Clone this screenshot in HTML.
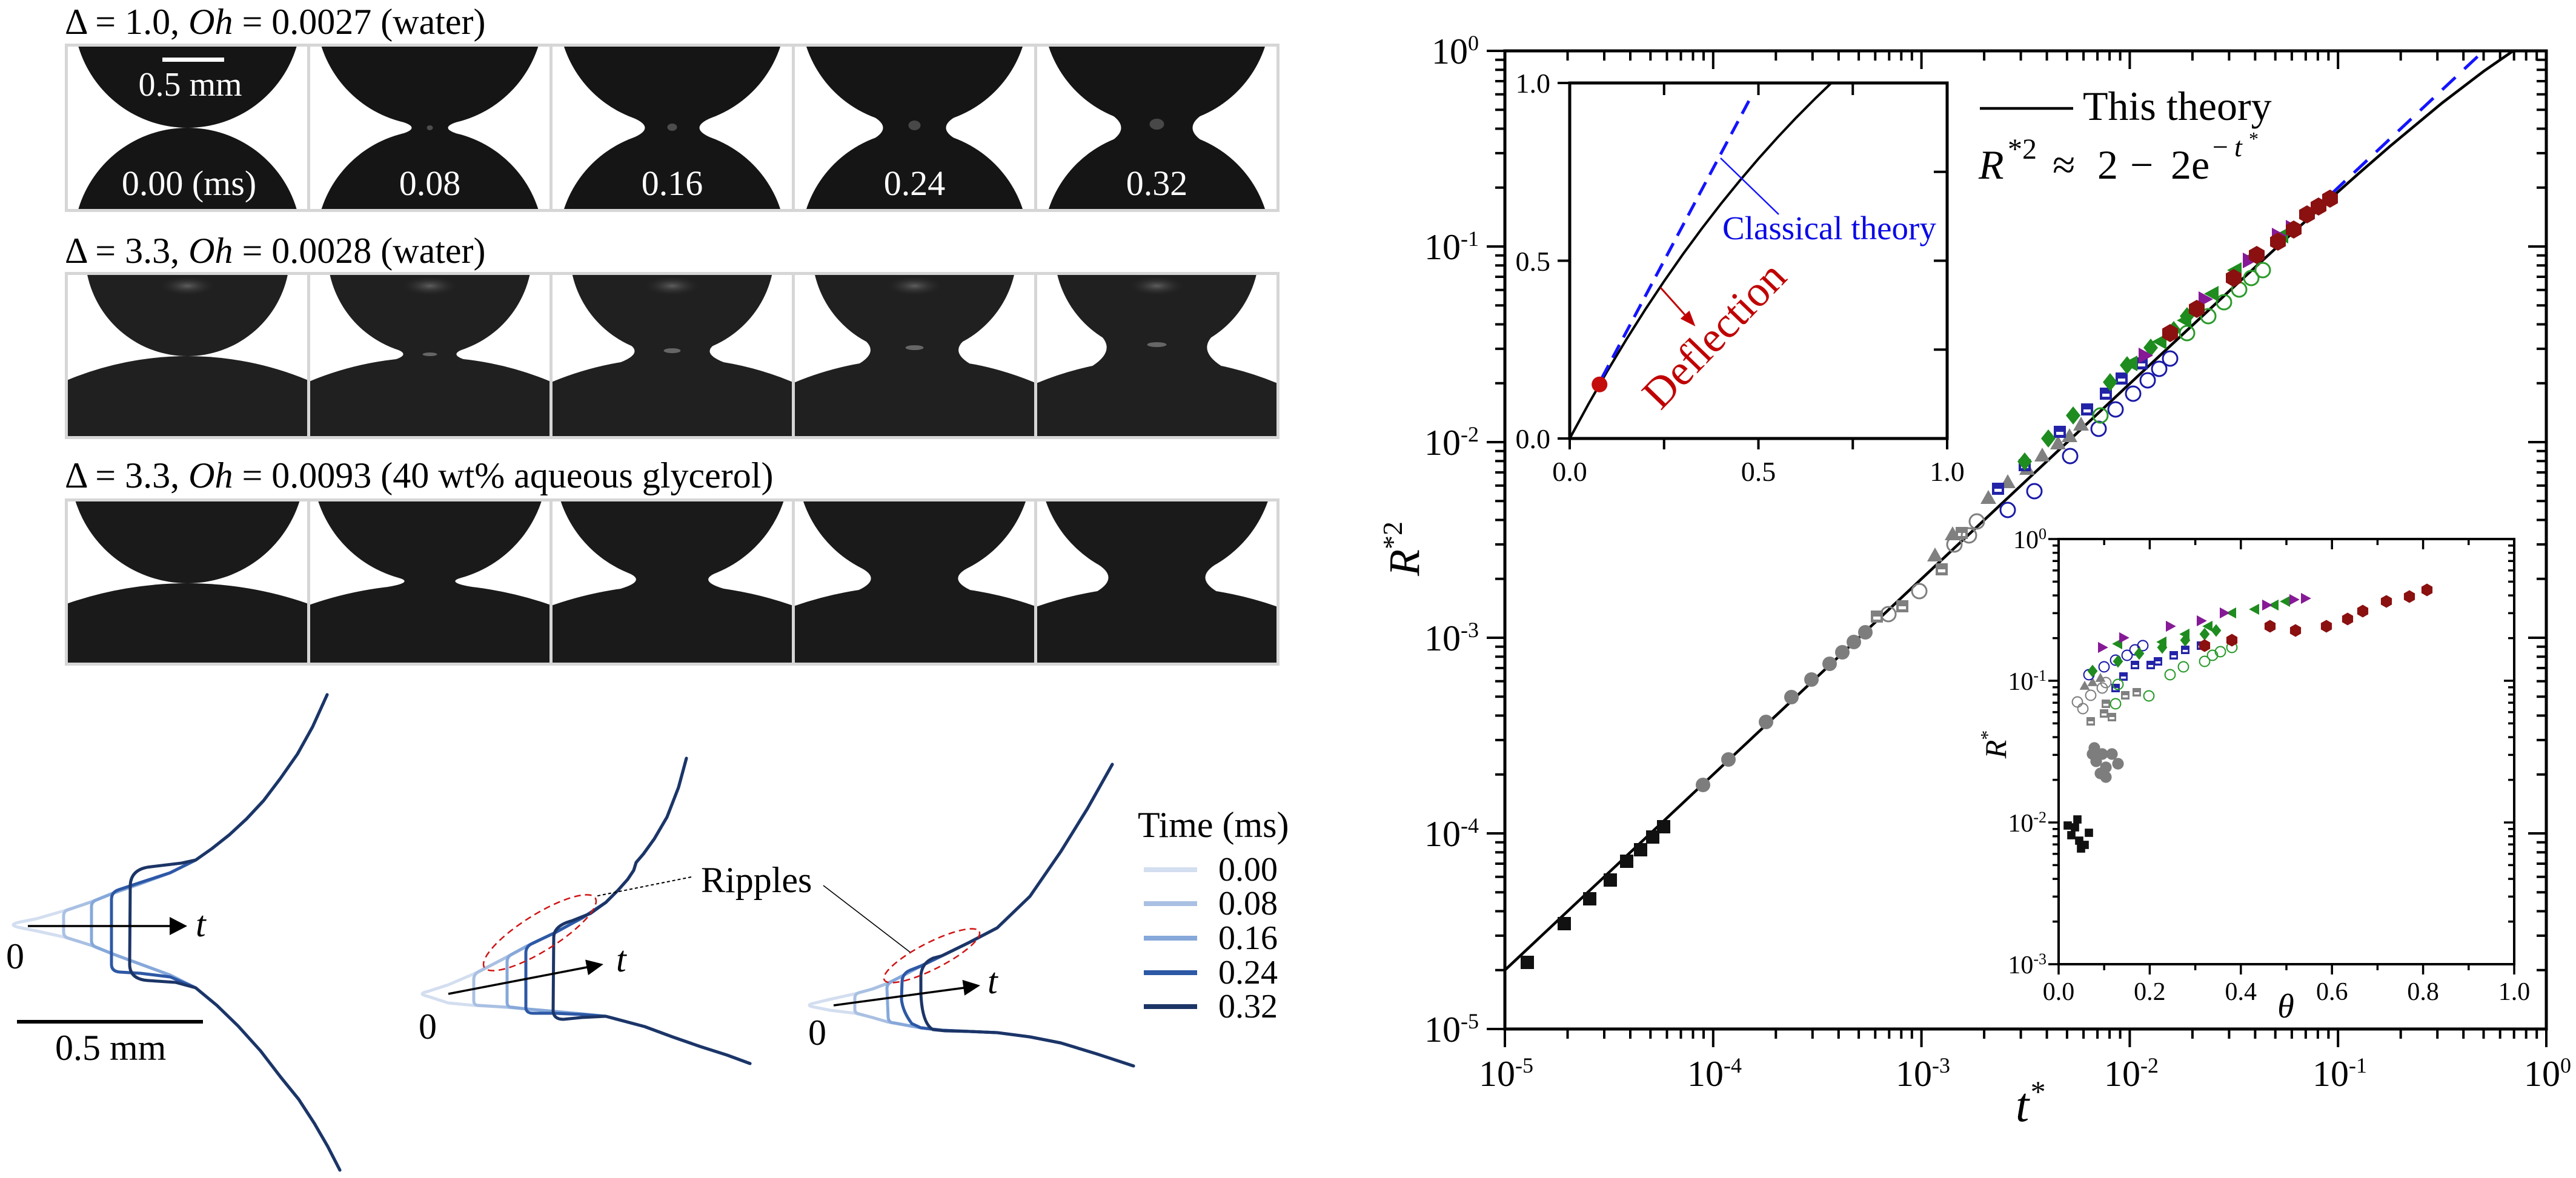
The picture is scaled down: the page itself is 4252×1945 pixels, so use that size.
<!DOCTYPE html>
<html><head><meta charset="utf-8"><style>
html,body{margin:0;padding:0;background:#fff;width:4252px;height:1945px;overflow:hidden;}
svg{display:block;font-family:"Liberation Serif","DejaVu Serif",serif;}
</style></head><body>
<svg width="4252" height="1945" viewBox="0 0 4252 1945" xmlns="http://www.w3.org/2000/svg" font-family="'Liberation Serif', 'DejaVu Serif', serif">
<defs>
<rect id="sq" x="-11" y="-11" width="22" height="22"/>
<circle id="ci" r="12"/>
<polygon id="tu" points="0,-14 13,9 -13,9"/>
<polygon id="tl" points="-14,0 10,-13 10,13"/>
<polygon id="tr" points="14,0 -10,-13 -10,13"/>
<polygon id="dm" points="0,-15 12,0 0,15 -12,0"/>
<polygon id="hx" points="13,-7.5 13,7.5 0,15 -13,7.5 -13,-7.5 0,-15"/>
<g id="hsq"><rect x="-10" y="-10" width="20" height="20"/><rect x="-6" y="0" width="12" height="5" fill="#fff"/></g>
<radialGradient id="hl"><stop offset="0" stop-color="#5e5e5e"/><stop offset="1" stop-color="#202020" stop-opacity="0"/></radialGradient>
</defs>
<rect width="4252" height="1945" fill="#fff"/>

<!-- ===== Row labels ===== -->
<g font-size="60" fill="#000">
<text x="107" y="56">Δ = 1.0, <tspan font-style="italic">Oh</tspan> = 0.0027 (water)</text>
<text x="107" y="434">Δ = 3.3, <tspan font-style="italic">Oh</tspan> = 0.0028 (water)</text>
<text x="107" y="805">Δ = 3.3, <tspan font-style="italic">Oh</tspan> = 0.0093 (40 wt% aqueous glycerol)</text>
</g>

<!-- ===== Row 1 ===== -->
<rect x="107" y="72" width="2005" height="278" fill="#d6d6d6"/>
<g fill="#fff">
<rect x="112" y="77" width="395" height="268"/><rect x="512" y="77" width="395" height="268"/><rect x="912" y="77" width="395" height="268"/><rect x="1312" y="77" width="395" height="268"/><rect x="1712" y="77" width="395" height="268"/>
</g>
<g fill="#151515">
<path d="M129.42,77 L489.58,77 A188 188 0 0 1 129.42,77 Z"/>
<path d="M129.42,345 A188 188 0 0 1 489.58,345 Z"/>
<path d="M530.67,77 L888.33,77 A188 188 0 0 1 530.67,77 Z"/>
<path d="M530.67,345 A188 188 0 0 1 888.33,345 Z"/>
<path d="M666.5,202 Q692.5,211 666.5,220 L752.5,220 Q726.5,211 752.5,202 Z"/>
<path d="M931,77 L1288,77 A188 188 0 0 1 931,77 Z"/>
<path d="M931,345 A188 188 0 0 1 1288,345 Z"/>
<path d="M1035.9,191 Q1093.1,211 1035.9,231 L1183.1,231 Q1125.9,211 1183.1,191 Z"/>
<path d="M1331,77 L1688,77 A188 188 0 0 1 1331,77 Z"/>
<path d="M1331,345 A188 188 0 0 1 1688,345 Z"/>
<path d="M1415.8,181 Q1499.2,211 1415.8,241 L1603.2,241 Q1519.8,211 1603.2,181 Z"/>
<path d="M1731,77 L2088,77 A188 188 0 0 1 1731,77 Z"/>
<path d="M1731,345 A188 188 0 0 1 2088,345 Z"/>
<path d="M1804.5,174 Q1896.5,211 1804.5,248 L2014.5,248 Q1922.5,211 2014.5,174 Z"/>
</g>
<ellipse cx="709.5" cy="211" rx="5" ry="4" fill="#4d4d4d"/>
<ellipse cx="1109.5" cy="210" rx="8" ry="6" fill="#4d4d4d"/>
<ellipse cx="1509.5" cy="207" rx="10" ry="8" fill="#484848"/>
<ellipse cx="1909.5" cy="205" rx="12" ry="9" fill="#484848"/>
<g fill="#fff">
<rect x="268" y="95" width="102" height="7"/>
<text x="314" y="158" font-size="56" text-anchor="middle">0.5 mm</text>
<text x="312" y="322" font-size="58" text-anchor="middle">0.00 (ms)</text>
<text x="709.5" y="322" font-size="58" text-anchor="middle">0.08</text>
<text x="1109.5" y="322" font-size="58" text-anchor="middle">0.16</text>
<text x="1509.5" y="322" font-size="58" text-anchor="middle">0.24</text>
<text x="1909.5" y="322" font-size="58" text-anchor="middle">0.32</text>
</g>

<!-- ===== Row 2 ===== -->
<rect x="107" y="449" width="2005" height="276" fill="#d6d6d6"/>
<g fill="#fff">
<rect x="112" y="454" width="395" height="266"/><rect x="512" y="454" width="395" height="266"/><rect x="912" y="454" width="395" height="266"/><rect x="1312" y="454" width="395" height="266"/><rect x="1712" y="454" width="395" height="266"/>
</g>
<g fill="#202020">
<path d="M144.16,454 L474.84,454 A169 169 0 0 1 144.16,454 Z"/>
<path d="M112,720 L112,627.2 A517 517 0 0 1 507,627.2 L507,720 Z"/>
<path d="M544.6,454 L874.4,454 A169 169 0 0 1 544.6,454 Z"/>
<path d="M512,720 L512,629.2 A517 517 0 0 1 907,629.2 L907,720 Z"/>
<path d="M649.5,575 Q679.3,584 653.9,593 L765.1,593 Q739.7,584 769.5,575 Z"/>
<path d="M944.83,454 L1274.17,454 A169 169 0 0 1 944.83,454 Z"/>
<path d="M912,720 L912,630.2 A517 517 0 0 1 1307,630.2 L1307,720 Z"/>
<path d="M1021,560 Q1072.1,579 1024.7,598 L1194.3,598 Q1146.9,579 1198,560 Z"/>
<path d="M1345.06,454 L1673.94,454 A169 169 0 0 1 1345.06,454 Z"/>
<path d="M1312,720 L1312,631.2 A517 517 0 0 1 1707,631.2 L1707,720 Z"/>
<path d="M1406.5,549 Q1460.3,574.5 1418.9,600 L1600.1,600 Q1558.7,574.5 1612.5,549 Z"/>
<path d="M1745.3,454 L2073.7,454 A169 169 0 0 1 1745.3,454 Z"/>
<path d="M1712,720 L1712,632.2 A517 517 0 0 1 2107,632.2 L2107,720 Z"/>
<path d="M1794.7,538 Q1853.9,571 1803.5,604 L2015.5,604 Q1965.1,571 2024.3,538 Z"/>
</g>
<g fill="url(#hl)">
<ellipse cx="309.5" cy="472" rx="48" ry="17"/><ellipse cx="709.5" cy="472" rx="48" ry="17"/><ellipse cx="1109.5" cy="472" rx="48" ry="17"/><ellipse cx="1509.5" cy="472" rx="48" ry="17"/><ellipse cx="1909.5" cy="472" rx="48" ry="17"/>
</g>
<g fill="#666">
<ellipse cx="709.5" cy="585" rx="12" ry="3"/><ellipse cx="1109.5" cy="579" rx="14" ry="4"/><ellipse cx="1509.5" cy="574" rx="15" ry="4"/><ellipse cx="1909.5" cy="569" rx="16" ry="4"/>
</g>

<!-- ===== Row 3 ===== -->
<rect x="107" y="823" width="2005" height="276" fill="#d6d6d6"/>
<g fill="#fff">
<rect x="112" y="828" width="395" height="266"/><rect x="512" y="828" width="395" height="266"/><rect x="912" y="828" width="395" height="266"/><rect x="1312" y="828" width="395" height="266"/><rect x="1712" y="828" width="395" height="266"/>
</g>
<g fill="#1a1a1a">
<path d="M124.69,828 L494.31,828 A194 194 0 0 1 124.69,828 Z"/>
<path d="M112,1094 L112,996.2 A604 604 0 0 1 507,996.2 L507,1094 Z"/>
<path d="M525.34,828 L893.66,828 A194 194 0 0 1 525.34,828 Z"/>
<path d="M512,1094 L512,998.2 A604 604 0 0 1 907,998.2 L907,1094 Z"/>
<path d="M657.9,954 Q684,961.5 640.1,969 L778.9,969 Q735,961.5 761.1,954 Z"/>
<path d="M925.67,828 L1293.33,828 A194 194 0 0 1 925.67,828 Z"/>
<path d="M912,1094 L912,999.2 A604 604 0 0 1 1307,999.2 L1307,1094 Z"/>
<path d="M1034.7,945 Q1069.5,958.5 1024.6,972 L1194.4,972 Q1149.5,958.5 1184.3,945 Z"/>
<path d="M1326.01,828 L1692.99,828 A194 194 0 0 1 1326.01,828 Z"/>
<path d="M1312,1094 L1312,1000.2 A604 604 0 0 1 1707,1000.2 L1707,1094 Z"/>
<path d="M1423.7,939 Q1454.2,956.5 1417.8,974 L1601.2,974 Q1564.8,956.5 1595.3,939 Z"/>
<path d="M1726.36,828 L2092.64,828 A194 194 0 0 1 1726.36,828 Z"/>
<path d="M1712,1094 L1712,1001.2 A604 604 0 0 1 2107,1001.2 L2107,1094 Z"/>
<path d="M1814.2,933 Q1846.1,954.5 1811.5,976 L2007.5,976 Q1972.9,954.5 2004.8,933 Z"/>
</g>

<!-- ===== Profiles ===== -->
<g fill="none" stroke-width="5" stroke-linejoin="round" stroke-linecap="round">
<path stroke="#d3def0" d="M540,1147 L516,1200 L491,1245 L463,1285 L435,1322 L407,1352 L379,1378 L350,1401 L323,1420 L281,1441 L232,1459 L186,1475 L151,1489 L105,1504 L60,1517 L30,1523 Q14,1527 30,1531 L60,1537 L105,1547 L151,1561 L186,1575 L232,1592 L281,1610 L323,1631 L358,1660 L393,1694 L430,1735 L463,1778 L493,1815 L519,1855 L541,1893 L561,1932"/>
<path stroke="#a9c0e3" d="M540,1147 L516,1200 L491,1245 L463,1285 L435,1322 L407,1352 L379,1378 L350,1401 L323,1420 L281,1441 L232,1459 L186,1475 L151,1489 L113,1502 Q105,1504 105,1512 L105,1539 Q105,1547 113,1549 L151,1561 L186,1575 L232,1592 L281,1610 L323,1631 L358,1660 L393,1694 L430,1735 L463,1778 L493,1815 L519,1855 L541,1893 L561,1932"/>
<path stroke="#86a8da" d="M540,1147 L516,1200 L491,1245 L463,1285 L435,1322 L407,1352 L379,1378 L350,1401 L323,1420 L281,1441 L232,1459 L186,1475 L159,1486 Q151,1489 151,1497 L151,1553 Q151,1561 159,1564 L186,1575 L232,1592 L281,1610 L323,1631 L358,1660 L393,1694 L430,1735 L463,1778 L493,1815 L519,1855 L541,1893 L561,1932"/>
<path stroke="#2d58a6" d="M540,1147 L516,1200 L491,1245 L463,1285 L435,1322 L407,1352 L379,1378 L350,1401 L323,1420 L281,1441 L232,1457 L196,1469 Q184,1473 184,1485 L184,1592 Q184,1604 198,1605 L232,1607 L281,1613 L323,1631 L358,1660 L393,1694 L430,1735 L463,1778 L493,1815 L519,1855 L541,1893 L561,1932"/>
<path stroke="#1c3567" d="M540,1147 L516,1200 L491,1245 L463,1285 L435,1322 L407,1352 L379,1378 L350,1401 L323,1420 L300,1425 L250,1431 Q216,1434 215,1462 L214,1592 Q214,1617 245,1619 L290,1622 L323,1631 L358,1660 L393,1694 L430,1735 L463,1778 L493,1815 L519,1855 L541,1893 L561,1932"/>
<path stroke="#d3def0" d="M1133,1252 L1120,1300 L1101,1349 L1080,1385 L1062,1410 L1050,1424 L1046,1437 L1036,1452 L1020,1470 L1000,1490 L962,1515 L916,1540 L870,1562 L837,1580 L814,1592 L782,1608 L740,1626 L706,1637 Q688,1641 706,1645 L740,1656 L782,1660 L837,1663 L870,1666 L916,1670 L960,1674 L1000,1678 L1064,1695 L1110,1712 L1156,1728 L1200,1742 L1238,1756"/>
<path stroke="#a9c0e3" d="M1133,1252 L1120,1300 L1101,1349 L1080,1385 L1062,1410 L1050,1424 L1046,1437 L1036,1452 L1020,1470 L1000,1490 L962,1515 L916,1540 L870,1562 L837,1580 L814,1592 L789,1605 Q782,1609 782,1617 L782,1652 Q782,1660 790,1660 L837,1663 L870,1666 L916,1670 L960,1674 L1000,1678 L1064,1695 L1110,1712 L1156,1728 L1200,1742 L1238,1756"/>
<path stroke="#86a8da" d="M1133,1252 L1120,1300 L1101,1349 L1080,1385 L1062,1410 L1050,1424 L1046,1437 L1036,1452 L1020,1470 L1000,1490 L962,1515 L916,1540 L870,1562 L844,1576 Q837,1580 837,1588 L837,1655 Q837,1663 845,1663 L870,1666 L916,1670 L960,1674 L1000,1678 L1064,1695 L1110,1712 L1156,1728 L1200,1742 L1238,1756"/>
<path stroke="#2d58a6" d="M1133,1252 L1120,1300 L1101,1349 L1080,1385 L1062,1410 L1050,1424 L1046,1437 L1036,1452 L1020,1470 L1000,1490 L962,1515 L916,1540 L878,1558 Q868,1563 868,1573 L868,1663 Q868,1673 880,1673 L916,1673 L960,1675 L1000,1678 L1064,1695 L1110,1712 L1156,1728 L1200,1742 L1238,1756"/>
<path stroke="#1c3567" d="M1133,1252 L1120,1300 L1101,1349 L1080,1385 L1062,1410 L1050,1424 L1046,1437 L1036,1452 L1020,1470 L1000,1490 L975,1508 L945,1520 Q914,1528 914,1548 L913,1668 Q913,1683 930,1683 L960,1680 L1000,1678 L1064,1695 L1110,1712 L1156,1728 L1200,1742 L1238,1756"/>
<path stroke="#d3def0" d="M1836,1262 L1795,1335 L1751,1406 L1700,1480 L1646,1532 L1600,1556 L1555,1578 L1520,1595 L1492,1610 L1464,1624 L1440,1633 L1411,1641 L1370,1650 L1345,1656 Q1327,1660 1345,1663 L1370,1668 L1411,1673 L1440,1680 L1464,1687 L1492,1692 L1520,1697 L1555,1701 L1600,1703 L1646,1705 L1700,1712 L1751,1722 L1810,1740 L1871,1760"/>
<path stroke="#a9c0e3" d="M1836,1262 L1795,1335 L1751,1406 L1700,1480 L1646,1532 L1600,1556 L1555,1578 L1520,1595 L1492,1610 L1464,1624 L1440,1633 L1418,1639 Q1411,1641 1411,1648 L1411,1667 Q1411,1673 1418,1674 L1440,1680 L1464,1687 L1492,1692 L1520,1697 L1555,1701 L1600,1703 L1646,1705 L1700,1712 L1751,1722 L1810,1740 L1871,1760"/>
<path stroke="#86a8da" d="M1836,1262 L1795,1335 L1751,1406 L1700,1480 L1646,1532 L1600,1556 L1555,1578 L1520,1595 L1492,1610 L1471,1621 Q1464,1625 1464,1632 L1466,1680 Q1467,1689 1476,1689 L1492,1692 L1520,1697 L1555,1701 L1600,1703 L1646,1705 L1700,1712 L1751,1722 L1810,1740 L1871,1760"/>
<path stroke="#2d58a6" d="M1836,1262 L1795,1335 L1751,1406 L1700,1480 L1646,1532 L1600,1556 L1555,1578 L1520,1595 L1502,1602 Q1490,1607 1489,1620 L1488,1650 Q1490,1670 1505,1690 L1520,1697 L1555,1701 L1600,1703 L1646,1705 L1700,1712 L1751,1722 L1810,1740 L1871,1760"/>
<path stroke="#1c3567" d="M1836,1262 L1795,1335 L1751,1406 L1700,1480 L1646,1532 L1600,1556 L1555,1578 L1540,1582 Q1522,1590 1520,1610 L1520,1640 Q1522,1690 1540,1700 L1560,1702 L1600,1703 L1646,1705 L1700,1712 L1751,1722 L1810,1740 L1871,1760"/>
</g>
<g stroke="#000" stroke-width="3.5">
<line x1="46" y1="1529" x2="282" y2="1529"/>
<line x1="740" y1="1641" x2="969" y2="1597"/>
<line x1="1376" y1="1660" x2="1591" y2="1631"/>
</g>
<g fill="#000">
<polygon points="280,1514 309,1529 280,1544"/>
<polygon points="996,1592 970.9,1610.1 966.1,1584.5"/>
<polygon points="1618,1627 1592.1,1643.7 1588.5,1617.9"/>
</g>
<g font-size="60" fill="#000">
<text x="323" y="1546" font-style="italic">t</text>
<text x="1017" y="1604" font-style="italic">t</text>
<text x="1630" y="1640" font-style="italic">t</text>
<text x="10" y="1599">0</text>
<text x="691" y="1715">0</text>
<text x="1334" y="1725">0</text>
<text x="91" y="1750">0.5 mm</text>
<text x="1157" y="1473">Ripples</text>
<text x="1878" y="1382">Time (ms)</text>
</g>
<rect x="28" y="1684" width="307" height="6" fill="#000"/>
<g fill="none" stroke="#d01414" stroke-width="2.5" stroke-dasharray="11 7">
<ellipse cx="891" cy="1540" rx="108" ry="30" transform="rotate(-32 891 1540)"/>
<ellipse cx="1538" cy="1578" rx="88" ry="22" transform="rotate(-27 1538 1578)"/>
</g>
<line x1="1141" y1="1448" x2="982" y2="1480" stroke="#000" stroke-width="2" stroke-dasharray="5 4"/>
<line x1="1359" y1="1462" x2="1502" y2="1572" stroke="#000" stroke-width="1.6"/>
<g stroke-width="8">
<line x1="1888" y1="1436" x2="1976" y2="1436" stroke="#d3def0"/>
<line x1="1888" y1="1492" x2="1976" y2="1492" stroke="#a9c0e3"/>
<line x1="1888" y1="1549" x2="1976" y2="1549" stroke="#86a8da"/>
<line x1="1888" y1="1606" x2="1976" y2="1606" stroke="#2d58a6"/>
<line x1="1888" y1="1662" x2="1976" y2="1662" stroke="#1c3567"/>
</g>
<g font-size="56" fill="#000">
<text x="2011" y="1454">0.00</text>
<text x="2011" y="1510">0.08</text>
<text x="2011" y="1567">0.16</text>
<text x="2011" y="1624">0.24</text>
<text x="2011" y="1680">0.32</text>
</g>

<!-- ===== Main plot ===== -->
<rect x="2484" y="84" width="1719" height="1615" fill="none" stroke="#000" stroke-width="5"/>
<g stroke="#000" stroke-width="4" fill="none">
<path d="M2484,84h-30M2484,407h-30M2484,730h-30M2484,1053h-30M2484,1376h-30M2484,1699h-30M4203,84h-30M4203,407h-30M4203,730h-30M4203,1053h-30M4203,1376h-30M4203,1699h-30M2484,1699v30M2827.8,1699v30M3171.6,1699v30M3515.4,1699v30M3859.2,1699v30M4203,1699v30M2827.8,84v30M3171.6,84v30M3515.4,84v30M3859.2,84v30"/>
<path d="M2484,1601.8h-16M2484,1544.9h-16M2484,1504.5h-16M2484,1473.2h-16M2484,1447.7h-16M2484,1426h-16M2484,1407.3h-16M2484,1390.8h-16M2484,1278.8h-16M2484,1221.9h-16M2484,1181.5h-16M2484,1150.2h-16M2484,1124.7h-16M2484,1103h-16M2484,1084.3h-16M2484,1067.8h-16M2484,955.8h-16M2484,898.9h-16M2484,858.5h-16M2484,827.2h-16M2484,801.7h-16M2484,780h-16M2484,761.3h-16M2484,744.8h-16M2484,632.8h-16M2484,575.9h-16M2484,535.5h-16M2484,504.2h-16M2484,478.7h-16M2484,457h-16M2484,438.3h-16M2484,421.8h-16M2484,309.8h-16M2484,252.9h-16M2484,212.5h-16M2484,181.2h-16M2484,155.7h-16M2484,134h-16M2484,115.3h-16M2484,98.8h-16"/>
<path d="M4203,1601.8h-16M4203,1544.9h-16M4203,1504.5h-16M4203,1473.2h-16M4203,1447.7h-16M4203,1426h-16M4203,1407.3h-16M4203,1390.8h-16M4203,1278.8h-16M4203,1221.9h-16M4203,1181.5h-16M4203,1150.2h-16M4203,1124.7h-16M4203,1103h-16M4203,1084.3h-16M4203,1067.8h-16M4203,955.8h-16M4203,898.9h-16M4203,858.5h-16M4203,827.2h-16M4203,801.7h-16M4203,780h-16M4203,761.3h-16M4203,744.8h-16M4203,632.8h-16M4203,575.9h-16M4203,535.5h-16M4203,504.2h-16M4203,478.7h-16M4203,457h-16M4203,438.3h-16M4203,421.8h-16M4203,309.8h-16M4203,252.9h-16M4203,212.5h-16M4203,181.2h-16M4203,155.7h-16M4203,134h-16M4203,115.3h-16M4203,98.8h-16"/>
<path d="M2587.5,1699v16M2648,1699v16M2691,1699v16M2724.3,1699v16M2751.5,1699v16M2774.5,1699v16M2794.5,1699v16M2812,1699v16M2931.3,1699v16M2991.8,1699v16M3034.8,1699v16M3068.1,1699v16M3095.3,1699v16M3118.3,1699v16M3138.3,1699v16M3155.8,1699v16M3275.1,1699v16M3335.6,1699v16M3378.6,1699v16M3411.9,1699v16M3439.1,1699v16M3462.1,1699v16M3482.1,1699v16M3499.6,1699v16M3618.9,1699v16M3679.4,1699v16M3722.4,1699v16M3755.7,1699v16M3782.9,1699v16M3805.9,1699v16M3825.9,1699v16M3843.4,1699v16M3962.7,1699v16M4023.2,1699v16M4066.2,1699v16M4099.5,1699v16M4126.7,1699v16M4149.7,1699v16M4169.7,1699v16M4187.2,1699v16"/>
<path d="M2587.5,84v16M2648,84v16M2691,84v16M2724.3,84v16M2751.5,84v16M2774.5,84v16M2794.5,84v16M2812,84v16M2931.3,84v16M2991.8,84v16M3034.8,84v16M3068.1,84v16M3095.3,84v16M3118.3,84v16M3138.3,84v16M3155.8,84v16M3275.1,84v16M3335.6,84v16M3378.6,84v16M3411.9,84v16M3439.1,84v16M3462.1,84v16M3482.1,84v16M3499.6,84v16M3618.9,84v16M3679.4,84v16M3722.4,84v16M3755.7,84v16M3782.9,84v16M3805.9,84v16M3825.9,84v16M3843.4,84v16M3962.7,84v16M4023.2,84v16M4066.2,84v16M4099.5,84v16M4126.7,84v16M4149.7,84v16M4169.7,84v16M4187.2,84v16"/>
</g>
<g font-size="60" fill="#000">
<text x="2441" y="105" text-anchor="end">10<tspan font-size="36" dy="-22">0</tspan></text>
<text x="2441" y="428" text-anchor="end">10<tspan font-size="36" dy="-22">-1</tspan></text>
<text x="2441" y="751" text-anchor="end">10<tspan font-size="36" dy="-22">-2</tspan></text>
<text x="2441" y="1074" text-anchor="end">10<tspan font-size="36" dy="-22">-3</tspan></text>
<text x="2441" y="1397" text-anchor="end">10<tspan font-size="36" dy="-22">-4</tspan></text>
<text x="2441" y="1720" text-anchor="end">10<tspan font-size="36" dy="-22">-5</tspan></text>
<text x="2486" y="1793" text-anchor="middle">10<tspan font-size="36" dy="-22">-5</tspan></text>
<text x="2830" y="1793" text-anchor="middle">10<tspan font-size="36" dy="-22">-4</tspan></text>
<text x="3174" y="1793" text-anchor="middle">10<tspan font-size="36" dy="-22">-3</tspan></text>
<text x="3518" y="1793" text-anchor="middle">10<tspan font-size="36" dy="-22">-2</tspan></text>
<text x="3862" y="1793" text-anchor="middle">10<tspan font-size="36" dy="-22">-1</tspan></text>
<text x="4205" y="1793" text-anchor="middle">10<tspan font-size="36" dy="-22">0</tspan></text>
</g>
<text transform="translate(2342,906) rotate(-90)" text-anchor="middle" font-size="72"><tspan font-style="italic">R</tspan><tspan font-size="46" dy="-28">*2</tspan></text>
<text x="3327" y="1851" font-size="80" font-style="italic">t<tspan font-size="50" dy="-32">*</tspan></text>

<path d="M2484,1601.8 L3171.6,955.8 L3343.5,794.5 L3515.4,633.5 L3601.4,553.3 L3687.3,473.5 L3773.3,394.4 L3859.2,316.7 L3893.6,286.2 L3945.2,241.3 L4031.1,169.9 L4099.9,117.4 L4148.3,84" fill="none" stroke="#000" stroke-width="4.5"/>
<path d="M3849,319.4 L4099.5,84" fill="none" stroke="#1414ff" stroke-width="5" stroke-dasharray="30 20"/>

<g fill="#111">
<use href="#sq" x="2521" y="1589"/><use href="#sq" x="2582" y="1525"/><use href="#sq" x="2624" y="1484"/><use href="#sq" x="2658" y="1453"/><use href="#sq" x="2685" y="1422"/><use href="#sq" x="2708" y="1403"/><use href="#sq" x="2728" y="1382"/><use href="#sq" x="2746" y="1365"/>
</g>
<g fill="#7d7d7d">
<use href="#ci" x="2811" y="1296"/><use href="#ci" x="2853" y="1254"/><use href="#ci" x="2915" y="1192"/><use href="#ci" x="2957" y="1151"/><use href="#ci" x="2990" y="1122"/><use href="#ci" x="3020" y="1096"/><use href="#ci" x="3041" y="1077"/><use href="#ci" x="3060" y="1060"/><use href="#ci" x="3079" y="1044"/>
</g>
<g fill="#808080">
<use href="#hsq" x="3098" y="1018"/><use href="#hsq" x="3140" y="1001"/><use href="#hsq" x="3238" y="880"/><use href="#hsq" x="3205" y="940"/>
<use href="#tu" x="3194" y="918"/><use href="#tu" x="3223" y="883"/><use href="#tu" x="3282" y="823"/><use href="#tu" x="3314" y="797"/><use href="#tu" x="3346" y="775"/><use href="#tu" x="3371" y="753"/><use href="#tu" x="3397" y="733"/><use href="#tu" x="3416" y="721"/><use href="#tu" x="3435" y="702"/>
</g>
<g fill="none" stroke="#7f7f7f" stroke-width="3">
<use href="#ci" x="3117" y="1014"/><use href="#ci" x="3168" y="976"/><use href="#ci" x="3226" y="899"/><use href="#ci" x="3263" y="861"/><use href="#ci" x="3250" y="884"/>
</g>
<g fill="none" stroke="#1a1aa8" stroke-width="3">
<use href="#ci" x="3314" y="842"/><use href="#ci" x="3358" y="811"/><use href="#ci" x="3417" y="753"/><use href="#ci" x="3464" y="708"/><use href="#ci" x="3492" y="676"/><use href="#ci" x="3521" y="650"/><use href="#ci" x="3545" y="628"/><use href="#ci" x="3564" y="609"/><use href="#ci" x="3582" y="592"/>
</g>
<g fill="#2323a8">
<use href="#hsq" x="3298" y="807"/><use href="#hsq" x="3342" y="768"/><use href="#hsq" x="3400" y="713"/><use href="#hsq" x="3445" y="676"/><use href="#hsq" x="3476" y="650"/><use href="#hsq" x="3502" y="625"/><use href="#hsq" x="3535" y="600"/>
</g>
<g fill="none" stroke="#2a9a2a" stroke-width="3">
<use href="#ci" x="3467" y="686"/><use href="#ci" x="3610" y="550"/><use href="#ci" x="3645" y="522"/><use href="#ci" x="3671" y="499"/><use href="#ci" x="3696" y="478"/><use href="#ci" x="3716" y="459"/><use href="#ci" x="3735" y="446"/>
</g>
<g fill="#1e8c1e">
<use href="#dm" x="3342" y="762"/><use href="#dm" x="3381" y="724"/><use href="#dm" x="3422" y="686"/><use href="#dm" x="3483" y="631"/><use href="#dm" x="3511" y="603"/><use href="#dm" x="3550" y="574"/><use href="#dm" x="3588" y="545"/><use href="#dm" x="3610" y="522"/>
<use href="#tl" x="3518" y="600"/><use href="#tl" x="3566" y="564"/><use href="#tl" x="3607" y="529"/><use href="#tl" x="3652" y="485"/><use href="#tl" x="3690" y="446"/><use href="#tl" x="3719" y="424"/><use href="#tl" x="3767" y="389"/>
</g>
<g fill="#861a96">
<use href="#tr" x="3540" y="587"/><use href="#tr" x="3639" y="494"/><use href="#tr" x="3712" y="430"/><use href="#tr" x="3760" y="389"/><use href="#tr" x="3783" y="376"/>
</g>
<g fill="#8b1010">
<use href="#hx" x="3582" y="550"/><use href="#hx" x="3626" y="510"/><use href="#hx" x="3687" y="459"/><use href="#hx" x="3725" y="421"/><use href="#hx" x="3760" y="399"/><use href="#hx" x="3786" y="379"/><use href="#hx" x="3808" y="354"/><use href="#hx" x="3827" y="341"/><use href="#hx" x="3846" y="328"/>
</g>

<line x1="3268" y1="179" x2="3422" y2="179" stroke="#000" stroke-width="4.5"/>
<text x="3438" y="198" font-size="68">This theory</text>
<g font-size="68">
<text x="3266" y="295" font-style="italic">R</text>
<text x="3314" y="262" font-size="48">*2</text>
<text x="3388" y="295">≈</text>
<text x="3462" y="295">2</text>
<text x="3516" y="295">−</text>
<text x="3583" y="295">2e</text>
<text x="3652" y="258" font-size="46">−</text>
<text x="3688" y="258" font-size="46" font-style="italic">t</text>
<text x="3712" y="240" font-size="32">*</text>
</g>

<!-- ===== Inset 1 ===== -->
<rect x="2591" y="137" width="623" height="587" fill="#fff" stroke="#000" stroke-width="5"/>
<path d="M2591,724v18M2746.75,724v18M2902.5,724v18M3058.25,724v18M3214,724v18M2746.75,137v20M2902.5,137v20M3058.25,137v20M2591,137h-20M2591,430.5h-20M2591,724h-20M3214,283.75h-22M3214,430.5h-22M3214,577.25h-22" stroke="#000" stroke-width="4" fill="none"/>
<g font-size="46">
<text x="2559" y="153" text-anchor="end">1.0</text>
<text x="2559" y="447" text-anchor="end">0.5</text>
<text x="2559" y="740" text-anchor="end">0.0</text>
<text x="2591" y="794" text-anchor="middle">0.0</text>
<text x="2902.5" y="794" text-anchor="middle">0.5</text>
<text x="3214" y="794" text-anchor="middle">1.0</text>
</g>
<path d="M2591,724 L2622.2,666.7 L2653.3,612.3 L2684.5,560.5 L2715.6,511.2 L2746.8,464.3 L2777.9,419.7 L2809.1,377.3 L2840.2,337 L2871.4,298.6 L2902.5,262.1 L2933.7,227.3 L2964.8,194.3 L2996,162.9 L3022.8,137" fill="none" stroke="#000" stroke-width="4"/>
<path d="M2644,624.2 L2887.5,165.2" fill="none" stroke="#1414ff" stroke-width="5" stroke-dasharray="24 14"/>
<circle cx="2640.2" cy="634.8" r="13" fill="#c40d0d"/>
<line x1="2840" y1="261" x2="2936" y2="354" stroke="#1414ff" stroke-width="2.5"/>
<text x="2843" y="395" font-size="55" fill="#0a0ae6">Classical theory</text>
<line x1="2741" y1="475" x2="2781" y2="519.6" stroke="#c00000" stroke-width="3"/>
<polygon points="2798.5,538.9 2773.7,526.3 2788.5,512.9" fill="#c00000"/>
<text transform="translate(2741,679) rotate(-46)" font-size="72" fill="#c00000">Deflection</text>

<!-- ===== Inset 2 ===== -->
<rect x="3398" y="890" width="752" height="702" fill="#fff" stroke="#000" stroke-width="4"/>
<g stroke="#000" stroke-width="3.5" fill="none">
<path d="M3398,1592v17M3548.4,1592v17M3698.8,1592v17M3849.2,1592v17M3999.6,1592v17M4150,1592v17M3473.2,1592v10M3623.6,1592v10M3774,1592v10M3924.4,1592v10M4074.8,1592v10"/>
<path d="M3548.4,890v17M3698.8,890v17M3849.2,890v17M3999.6,890v17M3473.2,890v10M3623.6,890v10M3774,890v10M3924.4,890v10M4074.8,890v10"/>
<path d="M3398,890h-17M3398,1124h-17M3398,1358h-17M3398,1592h-17M4150,1124h-17M4150,1358h-17"/>
<path d="M3398,1521.6h-10M3398,1480.4h-10M3398,1451.1h-10M3398,1428.4h-10M3398,1409.9h-10M3398,1394.2h-10M3398,1380.7h-10M3398,1368.7h-10M3398,1287.6h-10M3398,1246.4h-10M3398,1217.1h-10M3398,1194.4h-10M3398,1175.9h-10M3398,1160.2h-10M3398,1146.7h-10M3398,1134.7h-10M3398,1053.6h-10M3398,1012.4h-10M3398,983.1h-10M3398,960.4h-10M3398,941.9h-10M3398,926.2h-10M3398,912.7h-10M3398,900.7h-10"/>
<path d="M4150,1521.6h-10M4150,1480.4h-10M4150,1451.1h-10M4150,1428.4h-10M4150,1409.9h-10M4150,1394.2h-10M4150,1380.7h-10M4150,1368.7h-10M4150,1287.6h-10M4150,1246.4h-10M4150,1217.1h-10M4150,1194.4h-10M4150,1175.9h-10M4150,1160.2h-10M4150,1146.7h-10M4150,1134.7h-10M4150,1053.6h-10M4150,1012.4h-10M4150,983.1h-10M4150,960.4h-10M4150,941.9h-10M4150,926.2h-10M4150,912.7h-10M4150,900.7h-10"/>
</g>
<g font-size="42">
<text x="3378" y="905" text-anchor="end">10<tspan font-size="26" dy="-15">0</tspan></text>
<text x="3378" y="1139" text-anchor="end">10<tspan font-size="26" dy="-15">-1</tspan></text>
<text x="3378" y="1373" text-anchor="end">10<tspan font-size="26" dy="-15">-2</tspan></text>
<text x="3378" y="1607" text-anchor="end">10<tspan font-size="26" dy="-15">-3</tspan></text>
<text x="3398" y="1651" text-anchor="middle">0.0</text>
<text x="3548.4" y="1651" text-anchor="middle">0.2</text>
<text x="3698.8" y="1651" text-anchor="middle">0.4</text>
<text x="3849.2" y="1651" text-anchor="middle">0.6</text>
<text x="3999.6" y="1651" text-anchor="middle">0.8</text>
<text x="4150" y="1651" text-anchor="middle">1.0</text>
</g>
<text x="3773" y="1680" font-size="56" font-style="italic" text-anchor="middle">θ</text>
<text transform="translate(3311,1229) rotate(-90)" text-anchor="middle" font-size="50"><tspan font-style="italic">R</tspan><tspan font-size="32" dy="-20">*</tspan></text>

<g fill="#111">
<use href="#sq" transform="translate(3413,1363) scale(.62)"/><use href="#sq" transform="translate(3429,1353) scale(.62)"/><use href="#sq" transform="translate(3419,1379) scale(.62)"/><use href="#sq" transform="translate(3432,1388) scale(.62)"/><use href="#sq" transform="translate(3435,1401) scale(.62)"/><use href="#sq" transform="translate(3448,1375) scale(.62)"/><use href="#sq" transform="translate(3425,1366) scale(.62)"/><use href="#sq" transform="translate(3441,1395) scale(.62)"/>
</g>
<g fill="#7d7d7d">
<use href="#ci" transform="translate(3457,1235) scale(.8)"/><use href="#ci" transform="translate(3470,1245) scale(.8)"/><use href="#ci" transform="translate(3460,1257) scale(.8)"/><use href="#ci" transform="translate(3476,1267) scale(.8)"/><use href="#ci" transform="translate(3467,1277) scale(.8)"/><use href="#ci" transform="translate(3486,1245) scale(.8)"/><use href="#ci" transform="translate(3496,1261) scale(.8)"/><use href="#ci" transform="translate(3476,1283) scale(.8)"/><use href="#ci" transform="translate(3454,1245) scale(.8)"/>
</g>
<g fill="#808080">
<use href="#hsq" transform="translate(3451,1191) scale(.7)"/><use href="#hsq" transform="translate(3473,1178) scale(.7)"/><use href="#hsq" transform="translate(3486,1184) scale(.7)"/><use href="#hsq" transform="translate(3476,1162) scale(.7)"/><use href="#hsq" transform="translate(3508,1148) scale(.7)"/><use href="#hsq" transform="translate(3527,1143) scale(.7)"/>
<use href="#tu" transform="translate(3441,1133) scale(.65)"/><use href="#tu" transform="translate(3454,1127) scale(.65)"/><use href="#tu" transform="translate(3467,1120) scale(.65)"/>
</g>
<g fill="none" stroke="#7f7f7f" stroke-width="3">
<use href="#ci" transform="translate(3429,1159) scale(.7)"/><use href="#ci" transform="translate(3438,1170) scale(.7)"/><use href="#ci" transform="translate(3451,1148) scale(.7)"/><use href="#ci" transform="translate(3470,1136) scale(.7)"/><use href="#ci" transform="translate(3476,1127) scale(.7)"/>
</g>
<g fill="none" stroke="#1a1aa8" stroke-width="3">
<use href="#ci" transform="translate(3448,1114) scale(.7)"/><use href="#ci" transform="translate(3473,1101) scale(.7)"/><use href="#ci" transform="translate(3492,1090) scale(.7)"/><use href="#ci" transform="translate(3511,1082) scale(.7)"/><use href="#ci" transform="translate(3524,1073) scale(.7)"/><use href="#ci" transform="translate(3537,1066) scale(.7)"/>
</g>
<g fill="#2323a8">
<use href="#hsq" transform="translate(3492,1136) scale(.7)"/><use href="#hsq" transform="translate(3505,1117) scale(.7)"/><use href="#hsq" transform="translate(3524,1098) scale(.7)"/><use href="#hsq" transform="translate(3550,1098) scale(.7)"/><use href="#hsq" transform="translate(3562,1092) scale(.7)"/><use href="#hsq" transform="translate(3588,1082) scale(.7)"/><use href="#hsq" transform="translate(3607,1073) scale(.7)"/><use href="#hsq" transform="translate(3633,1066) scale(.7)"/>
</g>
<g fill="none" stroke="#2a9a2a" stroke-width="3">
<use href="#ci" transform="translate(3492,1162) scale(.7)"/><use href="#ci" transform="translate(3496,1130) scale(.7)"/><use href="#ci" transform="translate(3547,1149) scale(.7)"/><use href="#ci" transform="translate(3582,1114) scale(.7)"/><use href="#ci" transform="translate(3604,1101) scale(.7)"/><use href="#ci" transform="translate(3639,1092) scale(.7)"/><use href="#ci" transform="translate(3652,1082) scale(.7)"/><use href="#ci" transform="translate(3665,1076) scale(.7)"/><use href="#ci" transform="translate(3684,1069) scale(.7)"/>
</g>
<g fill="#1e8c1e">
<use href="#dm" transform="translate(3454,1108) scale(.7)"/><use href="#dm" transform="translate(3496,1092) scale(.7)"/><use href="#dm" transform="translate(3531,1079) scale(.7)"/><use href="#dm" transform="translate(3569,1069) scale(.7)"/><use href="#dm" transform="translate(3607,1057) scale(.7)"/><use href="#dm" transform="translate(3639,1047) scale(.7)"/><use href="#dm" transform="translate(3658,1041) scale(.7)"/>
<use href="#tl" transform="translate(3496,1063) scale(.7)"/><use href="#tl" transform="translate(3569,1060) scale(.7)"/><use href="#tl" transform="translate(3607,1047) scale(.7)"/><use href="#tl" transform="translate(3645,1034) scale(.7)"/><use href="#tl" transform="translate(3684,1012) scale(.7)"/><use href="#tl" transform="translate(3722,1006) scale(.7)"/><use href="#tl" transform="translate(3754,999) scale(.7)"/><use href="#tl" transform="translate(3773,993) scale(.7)"/>
</g>
<g fill="#861a96">
<use href="#tr" transform="translate(3470,1069) scale(.7)"/><use href="#tr" transform="translate(3505,1053) scale(.7)"/><use href="#tr" transform="translate(3582,1034) scale(.7)"/><use href="#tr" transform="translate(3633,1025) scale(.7)"/><use href="#tr" transform="translate(3671,1012) scale(.7)"/><use href="#tr" transform="translate(3741,999) scale(.7)"/><use href="#tr" transform="translate(3786,990) scale(.7)"/><use href="#tr" transform="translate(3805,988) scale(.7)"/>
</g>
<g fill="#8b1010">
<use href="#hx" transform="translate(3639,1066) scale(.7)"/><use href="#hx" transform="translate(3684,1057) scale(.7)"/><use href="#hx" transform="translate(3747,1034) scale(.7)"/><use href="#hx" transform="translate(3789,1041) scale(.7)"/><use href="#hx" transform="translate(3840,1034) scale(.7)"/><use href="#hx" transform="translate(3875,1022) scale(.7)"/><use href="#hx" transform="translate(3900,1009) scale(.7)"/><use href="#hx" transform="translate(3939,993) scale(.7)"/><use href="#hx" transform="translate(3977,985) scale(.7)"/><use href="#hx" transform="translate(4006,974) scale(.7)"/>
</g>
</svg>
</body></html>
